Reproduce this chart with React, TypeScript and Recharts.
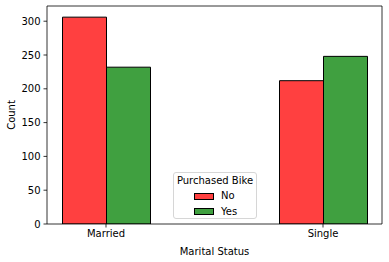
import React from 'react'
import { Bar, BarChart, CartesianGrid, XAxis, YAxis } from 'recharts'

const categories = ['Married', 'Single']
const noCounts = [306, 212]
const yesCounts = [232, 248]
const yTicks = [0, 50, 100, 150, 200, 250, 300]

const series = [
  { key: 'No', name: 'No', fill: '#ff4040', values: noCounts },
  { key: 'Yes', name: 'Yes', fill: '#40a040', values: yesCounts },
]

const data = categories.map((status, i) => ({
  status,
  No: noCounts[i],
  Yes: yesCounts[i],
}))

const font = 'DejaVu Sans, sans-serif'
const tickStyle = { fontSize: 10, fill: '#000', fontFamily: font }

// plot frame (matplotlib draws all four spines)
const W = 389
const H = 262
const M = { top: 6, right: 7, left: 47, bottom: 38 }

export default function App() {
  return (
    <div style={{ position: 'fixed', left: 0, top: 0, width: W, height: H, background: '#fff' }}>
      <BarChart
        width={W}
        height={H}
        data={data}
        barGap={0}
        barCategoryGap={65}
        margin={{ top: M.top, right: M.right, bottom: 0, left: 0 }}
      >
        <CartesianGrid
          horizontalPoints={[M.top]}
          verticalPoints={[W - M.right]}
          stroke="#000"
          strokeWidth={0.8}
        />
        <XAxis
          dataKey="status"
          height={M.bottom}
          padding={{ left: -49.5, right: -49.5 }}
          tick={tickStyle}
          tickSize={3.5}
          tickMargin={2}
          stroke="#000"
          axisLine={{ stroke: '#000', strokeWidth: 0.8 }}
          tickLine={{ stroke: '#000', strokeWidth: 0.8 }}
          label={{ value: 'Marital Status', position: 'insideBottom', offset: 7, fontSize: 10, fill: '#000', fontFamily: font }}
        />
        <YAxis
          width={M.left}
          domain={[0, 322.5]}
          ticks={yTicks}
          allowDataOverflow
          tick={tickStyle}
          tickSize={3.5}
          tickMargin={3}
          axisLine={{ stroke: '#000', strokeWidth: 0.8 }}
          tickLine={{ stroke: '#000', strokeWidth: 0.8 }}
          label={{ value: 'Count', angle: -90, position: 'insideLeft', offset: 11, fontSize: 10, fill: '#000', fontFamily: font, style: { textAnchor: 'middle' } }}
        />
        {series.map((s) => (
          <Bar
            key={s.key}
            dataKey={s.key}
            name={s.name}
            fill={s.fill}
            stroke="#000"
            strokeWidth={1}
            isAnimationActive={false}
          />
        ))}
      </BarChart>
      <div
        style={{
          position: 'absolute',
          left: 173,
          top: 172,
          width: 84,
          height: 47,
          boxSizing: 'border-box',
          border: '1px solid #d6d6d6',
          borderRadius: 3,
          background: 'rgba(255,255,255,0.8)',
          fontFamily: font,
          fontSize: 10,
          color: '#000',
        }}
      >
        <div style={{ position: 'absolute', top: 2, left: 0, width: '100%', textAlign: 'center', lineHeight: '12px' }}>
          Purchased Bike
        </div>
        {series.map((s, i) => (
          <div
            key={s.key}
            style={{ position: 'absolute', left: 20, top: 17 + i * 15.5, height: 12, display: 'flex', alignItems: 'center' }}
          >
            <span
              style={{
                display: 'inline-block',
                width: 20,
                height: 7,
                boxSizing: 'border-box',
                border: '1px solid #000',
                background: s.fill,
                marginRight: 7,
              }}
            />
            <span style={{ lineHeight: '12px' }}>{s.name}</span>
          </div>
        ))}
      </div>
    </div>
  )
}
